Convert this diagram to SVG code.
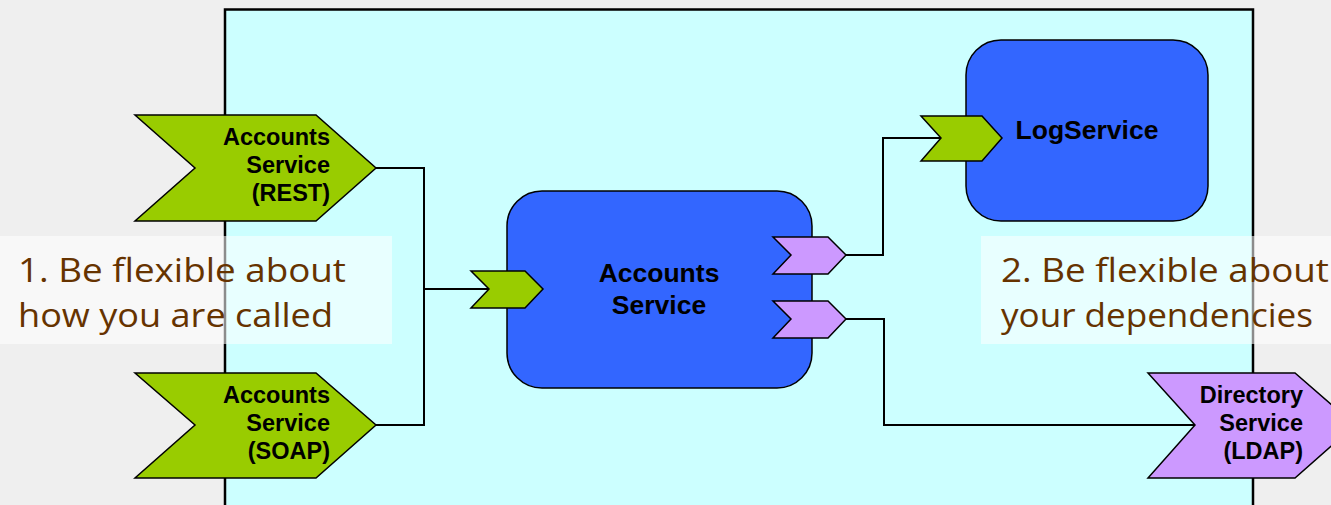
<svg xmlns="http://www.w3.org/2000/svg" width="1331" height="505" viewBox="0 0 1331 505">
<style>
.bg{fill:#efefef}
.frame{fill:#ccffff;stroke:#000;stroke-width:2.5}
.svc{fill:#3366ff;stroke:#000;stroke-width:1.5}
.green{fill:#99cc00;stroke:#000;stroke-width:1.5;stroke-linejoin:miter}
.purple{fill:#cc99ff;stroke:#000;stroke-width:1.5;stroke-linejoin:miter}
.wire{fill:none;stroke:#000;stroke-width:2}
.lbl{font-family:"Liberation Sans",Arial,sans-serif;font-weight:bold;fill:#000}
.sm{font-size:23.5px}
.big{font-size:26.5px}
.note{fill:#ffffff;fill-opacity:0.55}
.ntext{font-family:"Open Sans","DejaVu Sans",sans-serif;font-size:33px;fill:#663300}
</style>
<rect class="bg" x="0" y="0" width="1331" height="505"/>
<g id="container">
<rect class="frame" x="225" y="9.5" width="1028" height="520"/>
</g>
<g id="connectors">
<polyline class="wire" points="376,168 424,168 424,425 376,425"/>
<polyline class="wire" points="424,289 489,289"/>
<polyline class="wire" points="846,255 883,255 883,138 941,138"/>
<polyline class="wire" points="846,319 884,319 884,425 1195,425"/>
</g>
<g id="rest">
<polygon class="green" points="135,115 316,115 376,168 316,221 135,221 195,168"/>
<text class="lbl sm" text-anchor="end" x="330" y="145">Accounts</text>
<text class="lbl sm" text-anchor="end" x="330" y="173">Service</text>
<text class="lbl sm" text-anchor="end" x="330" y="201">(REST)</text>
</g>
<g id="soap">
<polygon class="green" points="135,373 316,373 376,425 316,478 135,478 195,425"/>
<text class="lbl sm" text-anchor="end" x="330" y="403">Accounts</text>
<text class="lbl sm" text-anchor="end" x="330" y="431">Service</text>
<text class="lbl sm" text-anchor="end" x="330" y="459">(SOAP)</text>
</g>
<g id="accounts">
<rect class="svc" x="507" y="191" width="305" height="197" rx="35" ry="35"/>
<polygon class="green" points="471,271 525,271 543,289 525,308 471,308 489,289"/>
<polygon class="purple" points="773,237 828,237 846,255 828,274 773,274 791,255"/>
<polygon class="purple" points="773,301 828,301 846,319 828,338 773,338 791,319"/>
<text class="lbl big" text-anchor="middle" x="659" y="282">Accounts</text>
<text class="lbl big" text-anchor="middle" x="659" y="314">Service</text>
</g>
<g id="logservice">
<rect class="svc" x="966" y="40" width="242" height="181" rx="35" ry="35"/>
<polygon class="green" points="921,116 982,116 1002,138 982,161 921,161 941,138"/>
<text class="lbl big" text-anchor="middle" x="1087" y="139">LogService</text>
</g>
<g id="directory">
<polygon class="purple" points="1148,373 1295,373 1355,425 1295,478 1148,478 1195,425"/>
<text class="lbl sm" text-anchor="end" x="1303" y="403">Directory</text>
<text class="lbl sm" text-anchor="end" x="1303" y="431">Service</text>
<text class="lbl sm" text-anchor="end" x="1303" y="459">(LDAP)</text>
</g>
<g id="note1">
<rect class="note" x="0" y="236" width="392" height="108"/>
<text class="ntext" x="18" y="282" textLength="328" lengthAdjust="spacingAndGlyphs">1. Be flexible about</text>
<text class="ntext" x="18" y="327" textLength="315" lengthAdjust="spacingAndGlyphs">how you are called</text>
</g>
<g id="note2">
<rect class="note" x="981" y="236" width="350" height="108"/>
<text class="ntext" x="1001" y="282" textLength="328" lengthAdjust="spacingAndGlyphs">2. Be flexible about</text>
<text class="ntext" x="1001" y="327" textLength="312" lengthAdjust="spacingAndGlyphs">your dependencies</text>
</g>
</svg>
